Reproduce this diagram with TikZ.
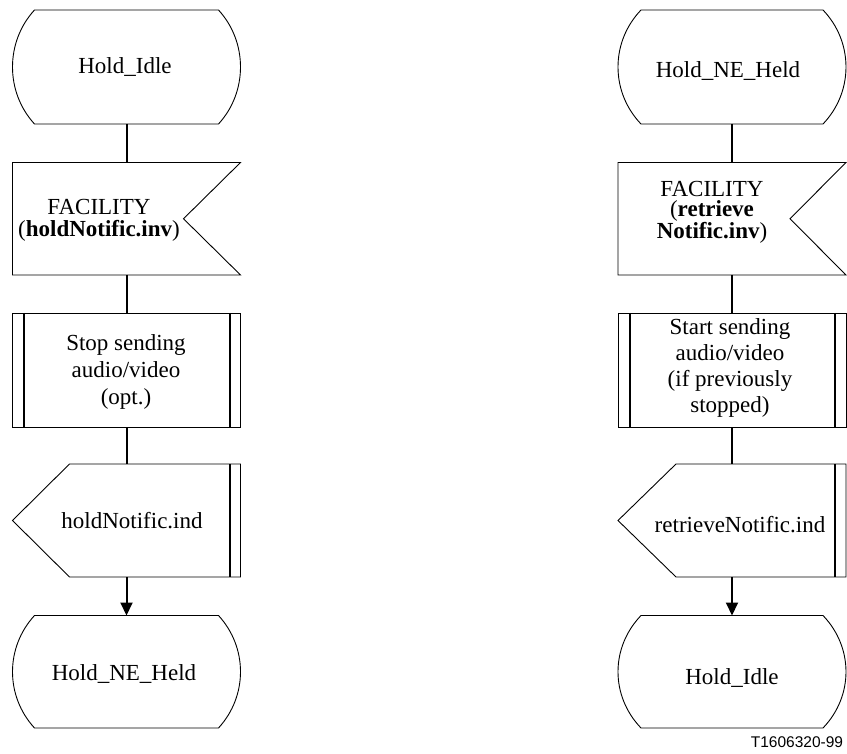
\documentclass[tikz,border=0pt]{standalone}
\usepackage{fontspec}
\setmainfont{Liberation Serif}
\setsansfont{Liberation Sans}
\usetikzlibrary{calc,arrows.meta}

\newcommand{\sdlstate}[2]{%
  \draw[shp] ($(#1.north west)+(#2,0)$) -- ($(#1.north east)+(-#2,0)$)
    .. controls ($(#1.north east)+(#2/3,32)$) and ($(#1.south east)+(#2/3,-32)$) .. ($(#1.south east)+(-#2,0)$)
    -- ($(#1.south west)+(#2,0)$)
    .. controls ($(#1.south west)+(-#2/3,-32)$) and ($(#1.north west)+(-#2/3,32)$) .. cycle;}
\newcommand{\sdlinput}[2]{%
  \draw[shp] (#1.north west) -- (#1.north east) -- ($(#1.east)+(-#2,0)$) -- (#1.south east) -- (#1.south west) -- cycle;}
\newcommand{\sdlproc}[2]{%
  \draw[shp] (#1.north west) rectangle (#1.south east);
  \draw[inner] ($(#1.north west)+(#2,0)$) -- ($(#1.south west)+(#2,0)$);
  \draw[inner] ($(#1.north east)+(-#2,0)$) -- ($(#1.south east)+(-#2,0)$);}
\newcommand{\sdloutput}[3]{%
  \draw[shp] ($(#1.north west)+(#2,0)$) -- (#1.north east) -- (#1.south east) -- ($(#1.south west)+(#2,0)$) -- (#1.west) -- cycle;
  \draw[inner] ($(#1.north east)+(-#3,0)$) -- ($(#1.south east)+(-#3,0)$);}

\begin{document}
\begin{tikzpicture}[x=1pt,y=-1pt,
  frame/.style={rectangle,draw=none,inner sep=0pt,outer sep=0pt,minimum width=228pt},
  shp/.style={line width=0.9pt,line join=miter},
  inner/.style={line width=2pt},
  conn/.style={line width=2pt},
  arr/.style={line width=2pt,-{Triangle[length=13pt,width=12pt]}},
  txt/.style={anchor=base,inner sep=0pt,align=center,font=\fontsize{23}{26}\selectfont},
  lbl/.style={anchor=base,inner sep=0pt,font=\sffamily\fontsize{15.5}{18}\selectfont}]
\useasboundingbox (0,0) rectangle (847,754);

% left column
\node[frame,minimum height=114pt] (s1) at (126.5,67) {};
\node[frame,minimum height=112.5pt] (in1) at (126.5,218.75) {};
\node[frame,minimum height=114pt] (p1) at (126.5,370) {};
\node[frame,minimum height=113pt] (o1) at (126.5,520.5) {};
\node[frame,minimum height=112.5pt] (s2) at (126.5,671.75) {};
\sdlstate{s1}{22}
\sdlinput{in1}{57}
\sdlproc{p1}{11}
\sdloutput{o1}{57}{11}
\sdlstate{s2}{22}
\draw[conn] (s1.south) -- (in1.north);
\draw[conn] (in1.south) -- (p1.north);
\draw[conn] (p1.south) -- (o1.north);
\draw[arr] (o1.south) -- (s2.north);

\node[txt] (t1) at (125,74) {Hold\_Idle};
\node[txt,font=\fontsize{23}{22}\selectfont] (t2) at (99,237) {FACILITY\\(\textbf{holdNotific.inv})};
\node[txt,font=\fontsize{23}{27}\selectfont] (t3) at (126,404) {Stop sending\\audio/video\\(opt.)};
\node[txt] (t4) at (132,528) {holdNotific.ind};
\node[txt] (t5) at (124,680) {Hold\_NE\_Held};

% right column
\node[frame,minimum height=114pt] (s3) at (732,67) {};
\node[frame,minimum height=112.5pt] (in2) at (732,218.75) {};
\node[frame,minimum height=114pt] (p2) at (732,370) {};
\node[frame,minimum height=113pt] (o2) at (732,520.5) {};
\node[frame,minimum height=112.5pt] (s4) at (732,671.75) {};
\sdlstate{s3}{23}
\sdlinput{in2}{56}
\sdlproc{p2}{11.5}
\sdloutput{o2}{58}{11}
\sdlstate{s4}{23}
\draw[conn] (s3.south) -- (in2.north);
\draw[conn] (in2.south) -- (p2.north);
\draw[conn] (p2.south) -- (o2.north);
\draw[arr] (o2.south) -- (s4.north);

\node[txt] (t6) at (728,78) {Hold\_NE\_Held};
\node[txt,font=\fontsize{23}{20}\selectfont] (t7) at (712,239) {FACILITY\\(\textbf{retrieve}\\\textbf{Notific.inv})};
\node[txt,font=\fontsize{23}{26}\selectfont] (t8) at (730,413) {Start sending\\audio/video\\(if previously\\stopped)};
\node[txt] (t9) at (740,532) {retrieveNotific.ind};
\node[txt] (t10) at (732,684) {Hold\_Idle};

\node[lbl] (code) at (797,747) {T1606320-99};
\end{tikzpicture}
\end{document}
